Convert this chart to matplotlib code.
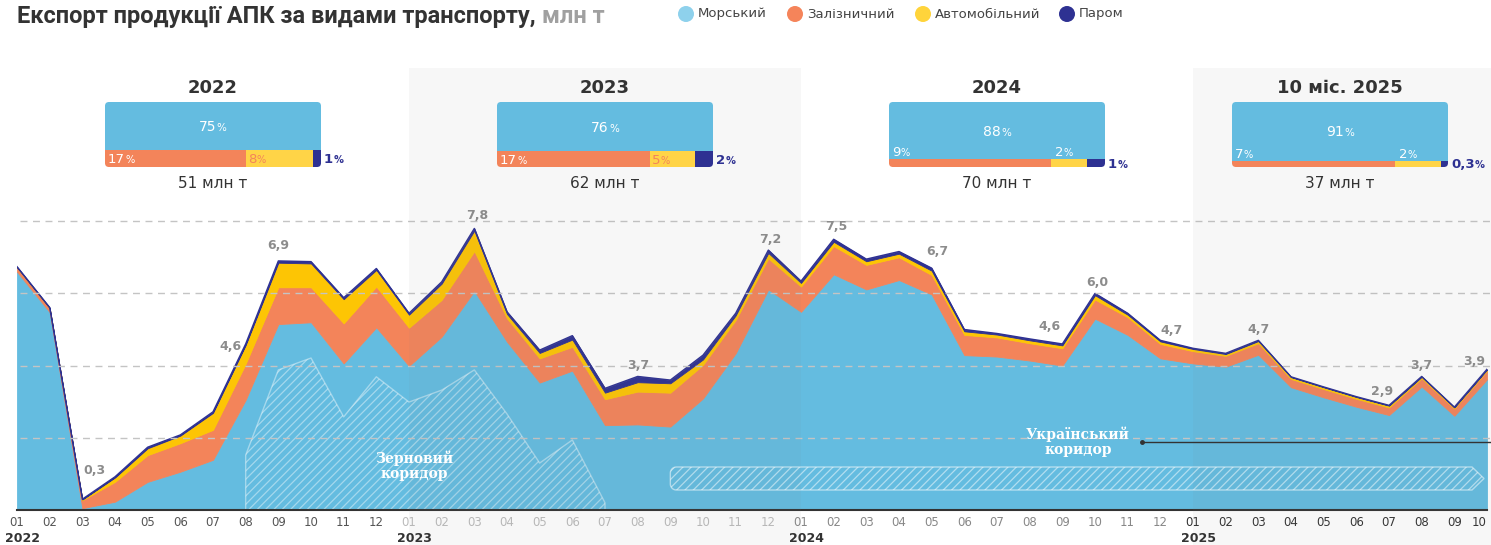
import matplotlib
matplotlib.use('Agg')
import matplotlib.pyplot as plt
import numpy as np
from matplotlib.patches import FancyBboxPatch, Rectangle, Circle, Polygon

plt.rcParams['font.family'] = ['DejaVu Sans']
plt.rcParams['hatch.linewidth'] = 0.9

# ---- дані: експорт АПК по місяцях, млн т (01.2022 - 10.2025) ----
months = [f'{m:02d}' for m in range(1, 13)] * 3 + [f'{m:02d}' for m in range(1, 11)]
years = ['2022', '2023', '2024', '2025']
sea = [6.60, 5.48, 0.05, 0.23, 0.78, 1.06, 1.39, 3.05, 5.15, 5.20, 4.06, 5.06,
       3.99, 4.80, 6.07, 4.66, 3.53, 3.86, 2.35, 2.37, 2.31, 3.09, 4.34, 6.11,
       5.49, 6.53, 6.11, 6.37, 5.97, 4.29, 4.25, 4.14, 4.00, 5.30, 4.85, 4.20,
       4.06, 3.97, 4.30, 3.40, 3.12, 2.86, 2.63, 3.42, 2.61, 3.62]
rail = [0.12, 0.11, 0.22, 0.55, 0.74, 0.79, 0.83, 1.00, 1.02, 0.97, 1.11, 1.13,
        1.06, 1.02, 1.10, 0.65, 0.67, 0.66, 0.72, 0.91, 0.94, 0.93, 0.92, 0.86,
        0.70, 0.78, 0.68, 0.63, 0.54, 0.56, 0.53, 0.48, 0.48, 0.53, 0.49, 0.40,
        0.34, 0.30, 0.32, 0.23, 0.23, 0.22, 0.21, 0.23, 0.20, 0.24]
auto = [0.00, 0.00, 0.02, 0.12, 0.19, 0.21, 0.47, 0.52, 0.68, 0.66, 0.67, 0.46,
        0.36, 0.45, 0.57, 0.12, 0.15, 0.20, 0.18, 0.26, 0.26, 0.15, 0.13, 0.15,
        0.10, 0.12, 0.10, 0.10, 0.12, 0.10, 0.08, 0.08, 0.08, 0.12, 0.07, 0.07,
        0.06, 0.05, 0.06, 0.05, 0.05, 0.05, 0.05, 0.04, 0.03, 0.03]
ferry = [0.02, 0.02, 0.01, 0.02, 0.03, 0.02, 0.03, 0.03, 0.05, 0.05, 0.04, 0.04,
         0.04, 0.05, 0.06, 0.06, 0.08, 0.11, 0.12, 0.16, 0.09, 0.12, 0.06, 0.08,
         0.05, 0.07, 0.06, 0.06, 0.07, 0.05, 0.03, 0.04, 0.04, 0.05, 0.04, 0.03,
         0.02, 0.02, 0.02, 0.01, 0.01, 0.01, 0.01, 0.01, 0.01, 0.01]

# зерновий коридор (морський експорт), з 08.2022
grain_start = 7
grain = [1.52, 3.88, 4.21, 2.58, 3.69, 2.99, 3.32, 3.88, 2.66, 1.30, 1.94, 0.20]
ua_corridor = (20, 45)

# підписані точки
labelled = [2, 7, 8, 14, 19, 23, 25, 28, 32, 33, 35, 38, 42, 43, 45]
label_offsets = [(12, 29), (-15, -3), (0, 15), (3, 13), (1, 11), (2, 11), (3, 13), (6, 17),
                 (-13, 17), (2, 11), (11, 10), (0, 11), (-7, 14), (0, 11), (-13, 8)]

# структура за рік, %
box_years = ['2022', '2023', '2024', '10 міс. 2025']
box_totals = [51, 62, 70, 37]
box_sea = [75, 76, 88, 91]
box_rail = [17, 17, 9, 7]
box_auto = [8, 5, 2, 2]
box_ferry = [1, 2, 1, 0.3]
box_centers = [6, 18, 30, 40.5]

C_SEA, C_RAIL, C_AUTO, C_FERRY = '#64bce0', '#f3845a', '#fdc504', '#2e3192'
C_BOX_AUTO = '#ffd447'

W, H = 1491, 545
X0, DX = 17, 1470 / 45
Y0, DY = 510, 36.1


def px(i):
    return X0 + DX * i


fig = plt.figure(figsize=(W / 100, H / 100), dpi=100)
ax = fig.add_axes([X0 / W, (H - Y0) / H, 1470 / W, 8.4 * DY / H])
ax.set_xlim(0, 45)
ax.set_ylim(0, 8.4)
ax.patch.set_alpha(0)

ov = fig.add_axes([0, 0, 1, 1], zorder=5)
ov.set_xlim(0, W)
ov.set_ylim(H, 0)
ov.axis('off')
renderer = fig.canvas.get_renderer()

x = np.arange(len(months))
total = np.array(sea) + np.array(rail) + np.array(auto) + np.array(ferry)

ax.stackplot(x, sea, rail, auto, ferry, colors=[C_SEA, C_RAIL, C_AUTO, C_FERRY],
             lw=0.6, edgecolor='face', zorder=2)
ax.plot(x, total, color=C_FERRY, lw=1.0, zorder=3)

gx = np.arange(grain_start, grain_start + len(grain))
ax.fill_between(gx, 0, grain, facecolor='none', edgecolor=(1, 1, 1, 0.42),
                hatch='////', lw=1.0, zorder=3)

ax.hlines([2, 4, 6, 8], 0.1, 45.2, colors='#c4c4c4', linestyles=(0, (5, 4)),
          lw=1, zorder=4, clip_on=False)

for (i, (dx, dy)) in zip(labelled, label_offsets):
    ax.annotate(f'{total[i]:.1f}'.replace('.', ','), (i, total[i]), xytext=(dx, dy),
                textcoords='offset pixels', ha='center', va='center', fontsize=9,
                fontweight='bold', color='#8c8c8c', zorder=6)

ax.set_yticks([])
for s in ['left', 'right', 'top']:
    ax.spines[s].set_visible(False)
ax.spines['bottom'].set_color('#333333')
ax.spines['bottom'].set_linewidth(1.5)
ax.spines['bottom'].set_zorder(5)
ax.set_xticks(x)
ax.set_xticklabels(months, fontsize=8.5)
ax.tick_params(axis='x', length=0, pad=4.5)
tick_colors = ['#555555', '#bbbbbb', '#888888', '#333333']
tick_labels = ax.get_xticklabels()
for k, lab in enumerate(tick_labels):
    lab.set_color(tick_colors[k // 12])
tick_labels[-1].set_horizontalalignment('right')
for k, yr in enumerate(years):
    ov.text(px(12 * k) - 12, 538, yr, ha='left', va='center', fontsize=9,
            fontweight='bold', color='#333333')

# фонові смуги 2023 та 2025
ov.add_patch(Rectangle((px(12), 68), px(24) - px(12), H - 68, color='#808080',
                       alpha=0.06, lw=0, zorder=0))
ov.add_patch(Rectangle((px(36), 68), W - px(36), H - 68, color='#808080',
                       alpha=0.06, lw=0, zorder=0))

# підписи коридорів
corr_font = dict(family='DejaVu Serif', fontweight='bold', fontsize=10, color='white',
                 ha='center', va='center', linespacing=1.05, zorder=3)
ov.text(414, 466, 'Зерновий\nкоридор', **corr_font)
ov.text(1078, 442, 'Український\nкоридор', **corr_font)

L, R = px(ua_corridor[0]), px(ua_corridor[1]) - 3
top, bot, r = 467, 490, 6
pts = [(L + r + r * np.cos(a), top + r + r * np.sin(a)) for a in np.linspace(np.pi, 1.5 * np.pi, 8)]
pts += [(R - 12, top), (R, (top + bot) / 2), (R - 12, bot)]
pts += [(L + r + r * np.cos(a), bot - r + r * np.sin(a)) for a in np.linspace(0.5 * np.pi, np.pi, 8)]
ov.add_patch(Polygon(pts, closed=True, facecolor='none', edgecolor=(1, 1, 1, 0.5),
                     hatch='////', lw=1.0, zorder=2))
ov.plot([1142, W], [441.5, 441.5], color='#333333', lw=1.0, zorder=3)
ov.plot([1142], [441.5], 'o', ms=2.5, color='#333333', zorder=3)


def draw_runs(x0, y, runs, ha='left', zorder=4):
    texts = [ov.text(0, y, s, ha='left', va='baseline', zorder=zorder, **kw) for s, kw in runs]
    widths = [t.get_window_extent(renderer).width for t in texts]
    start = x0 - sum(widths) / 2 if ha == 'center' else x0
    for t, w in zip(texts, widths):
        t.set_x(start)
        start += w


def pct(v, color, size=9.5, weight='normal'):
    num = f'{v:g}'.replace('.', ',')
    return [(num, dict(fontsize=size, color=color, fontweight=weight)),
            ('%', dict(fontsize=size * 0.75, color=color, fontweight=weight))]


# заголовок і легенда
draw_runs(17, 23, [('Експорт продукції АПК за видами транспорту, ',
                    dict(family='Roboto', fontweight='bold', fontsize=17, color='#333333')),
                   ('млн т', dict(family='Roboto', fontweight='bold', fontsize=17, color='#a0a0a0'))])
leg_names = ['Морський', 'Залізничний', 'Автомобільний', 'Паром']
leg_colors = ['#8ed1ec', '#f5845a', '#ffd43b', C_FERRY]
leg_x = [686, 795, 923, 1067]
for name, c, lx in zip(leg_names, leg_colors, leg_x):
    ov.add_patch(Circle((lx, 14), 8, color=c, lw=0, zorder=3))
    ov.text(lx + 12, 14, name, ha='left', va='center', fontsize=9.5, color='#444444')

# блоки структури за рік
BW, BH, BT = 216, 65, 102
for k in range(len(box_years)):
    cx = px(box_centers[k])
    x0 = cx - BW / 2
    s, rl, au, fe = box_sea[k], box_rail[k], box_auto[k], box_ferry[k]
    tot = s + rl + au + fe
    hs = BH * s / tot
    y1, h2 = BT + hs, BH - hs
    rest = rl + au + fe
    wr, wa, wf = BW * rl / rest, BW * au / rest, BW * fe / rest
    clip = FancyBboxPatch((x0, BT), BW, BH, boxstyle='round,pad=0,rounding_size=4',
                          fc='none', ec='none')
    ov.add_patch(clip)
    for (rx, ry, rw, rh, c) in [(x0, BT, BW, hs, C_SEA), (x0, y1, wr, h2, C_RAIL),
                                (x0 + wr, y1, wa, h2, C_BOX_AUTO), (x0 + wr + wa, y1, wf, h2, C_FERRY)]:
        p = Rectangle((rx, ry), rw, rh, fc=c, lw=0, zorder=2)
        ov.add_patch(p)
        p.set_clip_path(clip)

    ov.text(cx, 88, box_years[k], ha='center', va='center', fontsize=13,
            fontweight='bold', color='#333333')
    ov.text(cx, 184, f'{box_totals[k]} млн т', ha='center', va='center', fontsize=11,
            color='#333333')
    draw_runs(cx, BT + hs / 2 + 5, pct(s, 'white', 10), ha='center')
    ym = y1 + h2 / 2
    if h2 >= 12:
        draw_runs(x0 + 3, ym + 4.5, pct(rl, 'white', 9.5))
        draw_runs(x0 + wr + 2, ym + 4.5, pct(au, C_RAIL, 9.5))
    else:
        draw_runs(x0 + 3, y1 - 3, pct(rl, 'white', 9.5))
        draw_runs(x0 + wr + 4, y1 - 3, pct(au, 'white', 9.5))
    draw_runs(x0 + BW + 3, ym + 4.5, pct(fe, C_FERRY, 9.5, 'bold'))

fig.savefig('out.png', dpi=100)
